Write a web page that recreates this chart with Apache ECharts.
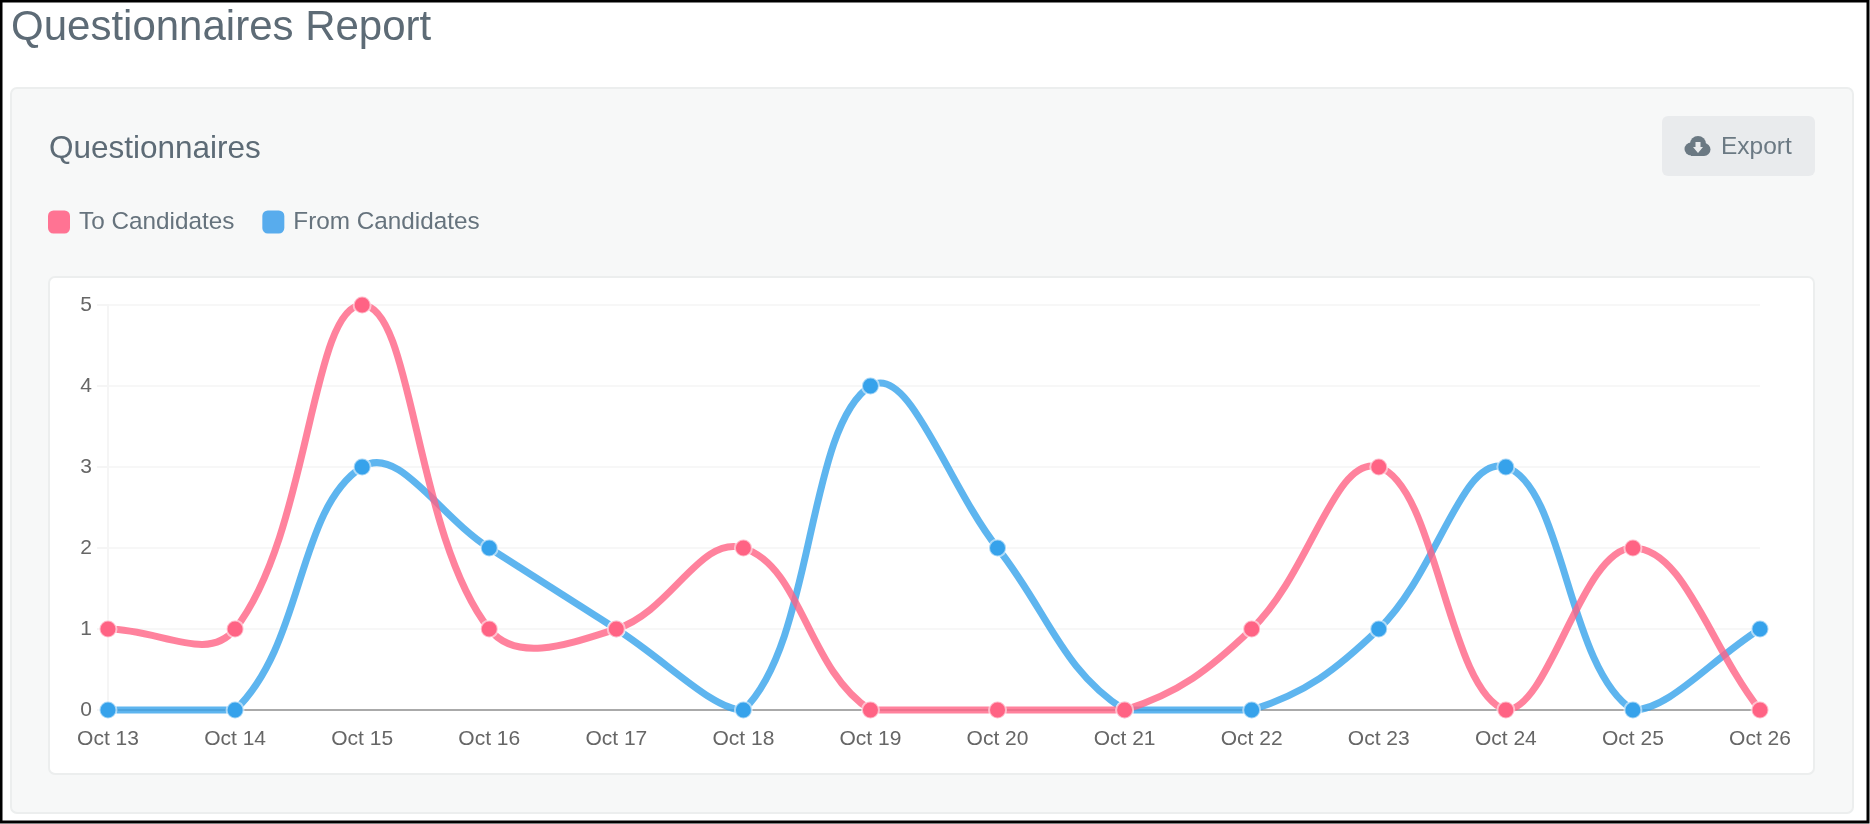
<!DOCTYPE html>
<html>
<head>
<meta charset="utf-8">
<style>html,body{margin:0;padding:0;background:#fff}#c{width:1870px;height:824px}</style>
<script src="https://cdn.jsdelivr.net/npm/echarts@6/dist/echarts.min.js"></script>
</head>
<body>
<div id="c"></div>
<script>
const categories = ['Oct 13','Oct 14','Oct 15','Oct 16','Oct 17','Oct 18','Oct 19','Oct 20','Oct 21','Oct 22','Oct 23','Oct 24','Oct 25','Oct 26'];
const toCandidates = [1,1,5,1,1,2,0,0,0,1,3,0,2,0];
const fromCandidates = [0,0,3,2,1,0,4,2,0,0,1,3,0,1];
const pageTitle = 'Questionnaires Report';
const panelTitle = 'Questionnaires';
const exportLabel = 'Export';
const FONT = '"Liberation Sans", Arial, sans-serif';
const SLATE = '#5d6b76';
const ICON = '#6b7983';
const BTN = '#e9ebed';
const TENSION = 0.4;

const chart = echarts.init(document.getElementById('c'), null, {renderer:'canvas'});

// The reference spline overshoots between points, which the line series' smoothing
// does not allow: each segment is computed from the axis coordinates of its neighbours.
function splineSegment(values, color){
  return function(params, api){
    const i = params.dataIndex;
    if (i >= values.length - 1) return null;
    const area = params.coordSys;
    const at = k => {
      const j = Math.max(0, Math.min(values.length - 1, k));
      return api.coord([j, values[j]]);
    };
    const control = k => {
      const p = at(k - 1), c = at(k), n = at(k + 1);
      const d0 = Math.hypot(c[0]-p[0], c[1]-p[1]);
      const d1 = Math.hypot(n[0]-c[0], n[1]-c[1]);
      const s = (d0 + d1) || 1;
      const fa = TENSION * d0 / s, fb = TENSION * d1 / s;
      const clampX = x => Math.max(area.x, Math.min(area.x + area.width, x));
      const clampY = y => Math.max(area.y, Math.min(area.y + area.height, y));
      return {
        prev:[clampX(c[0]-fa*(n[0]-p[0])), clampY(c[1]-fa*(n[1]-p[1]))],
        next:[clampX(c[0]+fb*(n[0]-p[0])), clampY(c[1]+fb*(n[1]-p[1]))]
      };
    };
    const a = at(i), b = at(i + 1), ca = control(i), cb = control(i + 1);
    return {
      type:'bezierCurve',
      shape:{x1:a[0],y1:a[1],x2:b[0],y2:b[1],cpx1:ca.next[0],cpy1:ca.next[1],cpx2:cb.prev[0],cpy2:cb.prev[1]},
      style:{fill:null,stroke:color,lineWidth:7}
    };
  };
}
function curveSeries(name, values, color, z){
  return {
    name, type:'custom', z, clip:false, silent:true,
    coordinateSystem:'cartesian2d',
    data:values.map((v,i)=>[i,v]), encode:{x:0,y:1},
    renderItem:splineSegment(values, color)
  };
}
function pointSeries(name, values, solid, z){
  return {
    name, type:'line', data:values, z, clip:false,
    symbol:'circle', symbolSize:17, showSymbol:true,
    lineStyle:{width:0,opacity:0},
    itemStyle:{color:solid, borderColor:'rgba(255,255,255,0.55)', borderWidth:2, opacity:1}
  };
}
chart.setOption({
  animation:false,
  backgroundColor:'#fff',
  textStyle:{fontFamily:FONT},
  title:[
    {text:pageTitle,left:6,top:2,textStyle:{fontFamily:FONT,fontSize:42,fontWeight:'normal',color:SLATE}},
    {text:panelTitle,left:44,top:128,textStyle:{fontFamily:FONT,fontSize:31.5,fontWeight:'normal',color:SLATE}}
  ],
  legend:{
    left:48, top:210, padding:0, itemWidth:22, itemHeight:23, itemGap:28, icon:'roundRect',
    data:[
      {name:'To Candidates', itemStyle:{color:'#ff7393'}},
      {name:'From Candidates', itemStyle:{color:'#58aced'}}
    ],
    textStyle:{fontFamily:FONT,fontSize:24.3,color:'#66737d',padding:[4,0,0,4]}
  },
  grid:{left:108,right:110,top:305,bottom:114,containLabel:false},
  xAxis:{
    type:'category', boundaryGap:false, data:categories,
    axisLine:{show:true,lineStyle:{color:'#aaaaaa',width:2}},
    axisTick:{show:false},
    axisLabel:{color:'#666',fontSize:21,margin:19,interval:0,fontFamily:FONT},
    splitLine:{show:false}
  },
  yAxis:{
    type:'value', min:0, max:5, interval:1,
    axisLine:{show:true,lineStyle:{color:'#f5f5f5',width:2}},
    axisTick:{show:true,length:11,lineStyle:{color:'#f5f5f5',width:2}},
    axisLabel:{color:'#666',fontSize:21,margin:16,fontFamily:FONT},
    splitLine:{show:true,lineStyle:{color:'#f7f7f7',width:2}}
  },
  series:[
    curveSeries('From Candidates', fromCandidates, 'rgba(54,162,235,0.8)', 3),
    pointSeries('From Candidates', fromCandidates, '#36a2eb', 4),
    curveSeries('To Candidates', toCandidates, 'rgba(255,99,132,0.8)', 5),
    pointSeries('To Candidates', toCandidates, '#ff6384', 6)
  ],
  graphic:[
    {type:'rect',z:-10,silent:true,shape:{x:1,y:1,width:1867,height:821},style:{fill:'#fff',stroke:'#000',lineWidth:3}},
    {type:'rect',z:-9,silent:true,shape:{x:11,y:88,width:1842,height:725,r:6},style:{fill:'#f7f8f8',stroke:'#eceeee',lineWidth:2}},
    {type:'rect',z:-8,silent:true,shape:{x:49,y:277,width:1765,height:497,r:6},style:{fill:'#fff',stroke:'#eceeee',lineWidth:2}},
    {type:'rect',z:-8,silent:true,shape:{x:1662,y:116,width:153,height:60,r:6},style:{fill:BTN}},
    {type:'circle',z:-7,silent:true,shape:{cx:1691,cy:149,r:6.5},style:{fill:ICON}},
    {type:'circle',z:-7,silent:true,shape:{cx:1698,cy:144,r:8},style:{fill:ICON}},
    {type:'circle',z:-7,silent:true,shape:{cx:1704,cy:149.5,r:6.5},style:{fill:ICON}},
    {type:'rect',z:-7,silent:true,shape:{x:1691,y:147,width:13,height:9},style:{fill:ICON}},
    {type:'polygon',z:-6,silent:true,shape:{points:[[1695.5,142],[1700.5,142],[1700.5,147],[1703,147],[1698,153],[1693,147],[1695.5,147]]},style:{fill:BTN}},
    {type:'text',z:-6,silent:true,x:1721,y:147,style:{text:exportLabel,font:'24.5px '+FONT,fill:ICON,verticalAlign:'middle'}}
  ]
});
</script>
</body>
</html>
